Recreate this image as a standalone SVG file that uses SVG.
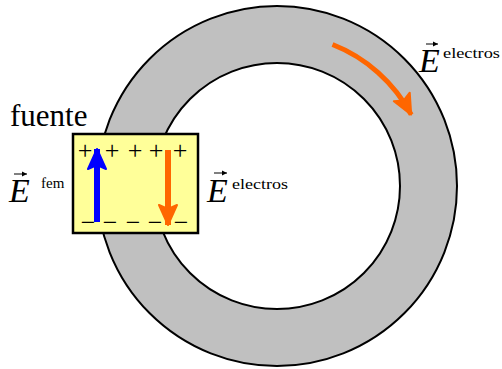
<svg xmlns="http://www.w3.org/2000/svg" width="502" height="369" viewBox="0 0 502 369" font-family="'Liberation Serif', 'Times New Roman', serif">
<defs>
<marker id="hb" markerUnits="userSpaceOnUse" markerWidth="24" markerHeight="24" refX="20" refY="10" orient="auto" viewBox="-2 -2 24 24">
<path d="M0,1 L20,10 L0,19 L4,10 Z" fill="#0000ff" stroke="#0000ff" stroke-width="2" stroke-linejoin="round"/>
</marker>
<marker id="ho" markerUnits="userSpaceOnUse" markerWidth="24" markerHeight="24" refX="20" refY="10" orient="auto" viewBox="-2 -2 24 24">
<path d="M0,1 L20,10 L0,19 L4,10 Z" fill="#ff6600" stroke="#ff6600" stroke-width="2" stroke-linejoin="round"/>
</marker>
<marker id="hv" markerUnits="userSpaceOnUse" markerWidth="6" markerHeight="6" refX="5" refY="2.5" orient="auto" viewBox="0 0 6 5">
<path d="M0,0 L5,2.5 L0,5 Z" fill="#000"/>
</marker>
</defs>
<g id="ring">
<circle cx="277" cy="186" r="180" fill="#c0c0c0" stroke="#000" stroke-width="2"/>
<circle cx="277" cy="186" r="123" fill="#fff" stroke="#000" stroke-width="2"/>
</g>
<g id="fuente">
<rect x="73" y="134" width="125" height="99" fill="#ffff99" stroke="#000" stroke-width="2.5"/>
<text font-size="26" fill="#000" x="77.7 104.7 127.7 148.7 172.7" y="158.5">+++++</text>
<text font-size="26" fill="#000" x="80.7 102.7 125.7 147.7 173.7" y="230.5">−−−−−</text>
</g>
<g id="connectors">
<line x1="97" y1="222" x2="97" y2="149" stroke="#0000ff" stroke-width="6" marker-end="url(#hb)"/>
<line x1="168" y1="150" x2="168" y2="225" stroke="#ff6600" stroke-width="6" marker-end="url(#ho)"/>
<path d="M332.5,44.5 A152,152 0 0 1 411.2,114.6" fill="none" stroke="#ff6600" stroke-width="5" marker-end="url(#ho)"/>
</g>
<g id="label-fuente">
<text font-size="31" fill="#000" x="10" y="126">fuente</text>
</g>
<g id="label-Efem">
<text font-style="italic" font-size="34" fill="#000" x="9" y="202">E</text>
<line x1="14" y1="174" x2="27" y2="174" stroke="#000" stroke-width="1" marker-end="url(#hv)"/>
<text font-size="15" fill="#000" x="41" y="188">fem</text>
</g>
<g id="label-Eelectros-mid">
<text font-style="italic" font-size="34" fill="#000" x="207" y="202">E</text>
<line x1="214" y1="173" x2="227" y2="173" stroke="#000" stroke-width="1" marker-end="url(#hv)"/>
<text font-size="15" fill="#000" x="232" y="189" textLength="56" lengthAdjust="spacingAndGlyphs">electros</text>
</g>
<g id="label-Eelectros-top">
<text font-style="italic" font-size="34" fill="#000" x="419" y="72">E</text>
<line x1="426" y1="44" x2="438" y2="44" stroke="#000" stroke-width="1" marker-end="url(#hv)"/>
<text font-size="15" fill="#000" x="443" y="58" textLength="57" lengthAdjust="spacingAndGlyphs">electros</text>
</g>
</svg>
